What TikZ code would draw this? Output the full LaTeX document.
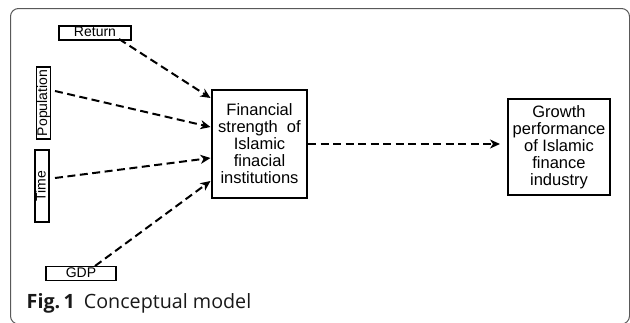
\documentclass[tikz,border=0pt]{standalone}
\usepackage{fontspec}
\setmainfont{Liberation Sans}
\newfontfamily\capfont{Open Sans}
\usetikzlibrary{arrows.meta}
\begin{document}
\begin{tikzpicture}[x=1pt,y=-1pt,
  smallbox/.style={draw, line width=1.6pt, inner sep=0pt, minimum width=72pt, minimum height=14pt,
    font=\fontsize{14}{16}\selectfont, text height=10pt, text depth=3pt},
  bigbox/.style={draw, line width=2pt, inner sep=0pt, align=center,
    font=\fontsize{16.5}{17}\selectfont},
  dasharrow/.style={line width=2pt, dash pattern=on 8pt off 4.5pt,
    -{Stealth[length=10pt,width=9pt,inset=3pt]}}
]
\useasboundingbox (0,0) rectangle (630,322);
\draw[line width=1pt, draw=black!65, rounded corners=8pt] (10.5,8.5) rectangle (629.5,324);

\node[smallbox] (ret) at (95,33) {Return};
\node[smallbox, rotate=90] (pop) at (43.5,103) {Population};
\node[smallbox, rotate=90] (time) at (42,186) {Time};
\node[smallbox, minimum width=70pt] (gdp) at (81,273.5) {GDP};

\node[bigbox, minimum width=95pt, minimum height=108pt] (fin) at (259.5,144)
  {Financial\\strength~ of\\Islamic\\finacial\\institutions};
\node[bigbox, minimum width=102pt, minimum height=96pt] (gro) at (559,147)
  {Growth\\performance\\of Islamic\\finance\\industry};

\coordinate (r0) at (119,39);
\coordinate (r1) at (210.5,98);
\coordinate (p0) at (55,91);
\coordinate (p1) at (210.5,127);
\coordinate (t0) at (55,178);
\coordinate (t1) at (210.5,158);
\coordinate (g0) at (95,266);
\coordinate (g1) at (210.5,181);
\coordinate (f1) at (500,144);

\draw[dasharrow] (r0) -- (r1);
\draw[dasharrow] (p0) -- (p1);
\draw[dasharrow] (t0) -- (t1);
\draw[dasharrow] (g0) -- (g1);
\draw[dasharrow] (fin.east |- f1) -- (f1);

\node[anchor=base west, inner sep=0pt, text=black!90, font=\capfont\fontsize{19.7}{22}\selectfont] (cap) at (26.5,308)
  {\textbf{Fig.\,1}\hspace{4pt} Conceptual model};
\end{tikzpicture}
\end{document}
